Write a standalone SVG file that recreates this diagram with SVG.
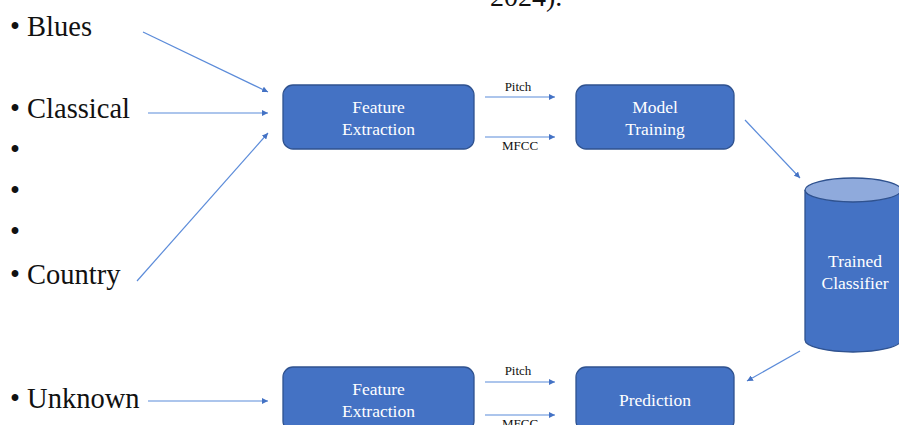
<svg xmlns="http://www.w3.org/2000/svg" width="899" height="425" viewBox="0 0 899 425">
<defs>
<marker id="ah" viewBox="0 0 10 10" refX="10" refY="5" markerWidth="6" markerHeight="6" markerUnits="userSpaceOnUse" orient="auto">
<path d="M0,0 L10,5 L0,10 z" fill="#4472C4"/>
</marker>
</defs>
<rect width="899" height="425" fill="#fff"/>
<text x="490" y="6" font-size="28" fill="#111" font-family="Liberation Serif">2024).</text>
<g id="labels" font-size="28.5" fill="#111">
<text x="10" y="36" font-family="Liberation Serif">• Blues</text>
<text x="10" y="118" font-family="Liberation Serif">• Classical</text>
<text x="10" y="159" font-family="Liberation Serif">•</text>
<text x="10" y="200" font-family="Liberation Serif">•</text>
<text x="10" y="241" font-family="Liberation Serif">•</text>
<text x="10" y="284" font-family="Liberation Serif">• Country</text>
<text x="10" y="408" font-family="Liberation Serif">• Unknown</text>
</g>
<g id="connectors" stroke="#5B8BD9" stroke-width="1.2" fill="none" marker-end="url(#ah)">
<line x1="143" y1="32" x2="268" y2="92"/>
<line x1="148" y1="113" x2="268" y2="113"/>
<line x1="137" y1="281" x2="268" y2="133"/>
<line x1="148" y1="401" x2="268" y2="401"/>
<line x1="485" y1="97" x2="555" y2="97"/>
<line x1="485" y1="137" x2="555" y2="137"/>
<line x1="745" y1="120" x2="800" y2="178"/>
<line x1="800" y1="351" x2="747" y2="381"/>
<line x1="485" y1="382" x2="555" y2="382"/>
<line x1="485" y1="415" x2="555" y2="415"/>
</g>
<g id="edge-labels" font-size="13" fill="#111" text-anchor="middle">
<text x="518" y="91" font-family="Liberation Serif">Pitch</text>
<text x="520" y="150" font-family="Liberation Serif">MFCC</text>
<text x="518" y="375" font-family="Liberation Serif">Pitch</text>
<text x="520" y="428" font-family="Liberation Serif">MFCC</text>
</g>
<g id="fe1" font-size="17.5" fill="#fff" text-anchor="middle">
<rect x="283" y="85" width="191" height="64" rx="10" fill="#4472C4" stroke="#2F528F" stroke-width="1.3"/>
<text x="378.5" y="113" font-family="Liberation Serif">Feature</text>
<text x="378.5" y="135" font-family="Liberation Serif">Extraction</text>
</g>
<g id="mt" font-size="17.5" fill="#fff" text-anchor="middle">
<rect x="576" y="85" width="158" height="64" rx="10" fill="#4472C4" stroke="#2F528F" stroke-width="1.3"/>
<text x="655" y="113" font-family="Liberation Serif">Model</text>
<text x="655" y="135" font-family="Liberation Serif">Training</text>
</g>
<g id="tc" font-size="17.5" fill="#fff" text-anchor="middle">
<path d="M805,190 L805,340 A48,12 0 0 0 901,340 L901,190" fill="#4472C4" stroke="#2F528F" stroke-width="1.3"/>
<ellipse cx="853" cy="190" rx="48" ry="12" fill="#8FAADC" stroke="#2F528F" stroke-width="1.3"/>
<text x="855" y="267" font-family="Liberation Serif">Trained</text>
<text x="855" y="289" font-family="Liberation Serif">Classifier</text>
</g>
<g id="fe2" font-size="17.5" fill="#fff" text-anchor="middle">
<rect x="283" y="367" width="191" height="64" rx="10" fill="#4472C4" stroke="#2F528F" stroke-width="1.3"/>
<text x="378.5" y="395" font-family="Liberation Serif">Feature</text>
<text x="378.5" y="417" font-family="Liberation Serif">Extraction</text>
</g>
<g id="pred" font-size="17.5" fill="#fff" text-anchor="middle">
<rect x="576" y="367" width="158" height="64" rx="10" fill="#4472C4" stroke="#2F528F" stroke-width="1.3"/>
<text x="655" y="406" font-family="Liberation Serif">Prediction</text>
</g>
</svg>
